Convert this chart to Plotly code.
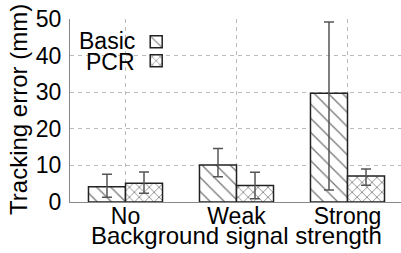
import plotly.graph_objects as go

categories = ["No", "Weak", "Strong"]
basic = [4.2, 10.1, 29.7]
basic_err_plus = [3.4, 4.5, 19.5]
basic_err_minus = [2.9, 3.2, 26.4]
pcr = [5.1, 4.5, 7.1]
pcr_err_plus = [3.1, 3.6, 1.9]
pcr_err_minus = [2.7, 3.6, 2.5]
yticks = [0, 10, 20, 30, 40, 50]

FONT = "Liberation Sans, Arial, sans-serif"
xpos = list(range(len(categories)))

fig = go.Figure()
fig.add_trace(go.Bar(
    x=xpos, y=basic, name=" ",
    marker=dict(color="white", line=dict(color="#222222", width=1.5),
                pattern=dict(shape="\\", fgcolor="#000000", bgcolor="white",
                             size=10, solidity=0.14)),
    error_y=dict(type="data", symmetric=False, array=basic_err_plus,
                 arrayminus=basic_err_minus, color="#555555", thickness=1.5, width=5),
))
fig.add_trace(go.Bar(
    x=xpos, y=pcr, name="  ",
    marker=dict(color="white", line=dict(color="#222222", width=1.5),
                pattern=dict(shape="x", fgcolor="#000000", bgcolor="white",
                             size=7, solidity=0.22)),
    error_y=dict(type="data", symmetric=False, array=pcr_err_plus,
                 arrayminus=pcr_err_minus, color="#555555", thickness=1.5, width=5),
))

fig.update_layout(
    width=401, height=253,
    margin=dict(l=70, r=0, t=19, b=51),
    paper_bgcolor="white", plot_bgcolor="white",
    barmode="group", bargap=0.333, bargroupgap=0,
    font=dict(family=FONT, size=23, color="black"),
    showlegend=True,
    legend=dict(x=0.2, y=0.955, xanchor="left", yanchor="top",
                bgcolor="rgba(0,0,0,0)", font=dict(size=11),
                tracegroupgap=0, itemwidth=30),
    xaxis=dict(range=[-0.5, 2.482], tickvals=xpos, ticktext=categories,
               showgrid=True, gridcolor="#bbbbbb", griddash="4px,4px", gridwidth=1,
               showline=True, linecolor="#888888", linewidth=1, ticks="",
               ticklabelstandoff=-7, zeroline=False, fixedrange=True),
    yaxis=dict(range=[0, 50], tickvals=yticks,
               showgrid=True, gridcolor="#bbbbbb", griddash="4px,4px", gridwidth=1,
               showline=True, linecolor="#888888", linewidth=1, ticks="",
               ticklabelstandoff=3, zeroline=False, fixedrange=True),
    annotations=[
        dict(text="Tracking error (mm)", xref="paper", yref="paper",
             x=-0.154, y=0.503, textangle=-90, showarrow=False,
             font=dict(size=24), xanchor="center", yanchor="middle"),
        dict(text="Background signal strength", xref="paper", yref="paper",
             x=0.503, y=-0.185, showarrow=False, font=dict(size=24),
             xanchor="center", yanchor="middle"),
        dict(text="Basic", xref="paper", yref="paper", x=0.203, y=0.88,
             showarrow=False, xanchor="right", yanchor="middle"),
        dict(text="PCR", xref="paper", yref="paper", x=0.203, y=0.765,
             showarrow=False, xanchor="right", yanchor="middle"),
    ],
)

fig.write_html("out.html", config={"displayModeBar": False},
               post_script="document.body.style.margin='0';")
